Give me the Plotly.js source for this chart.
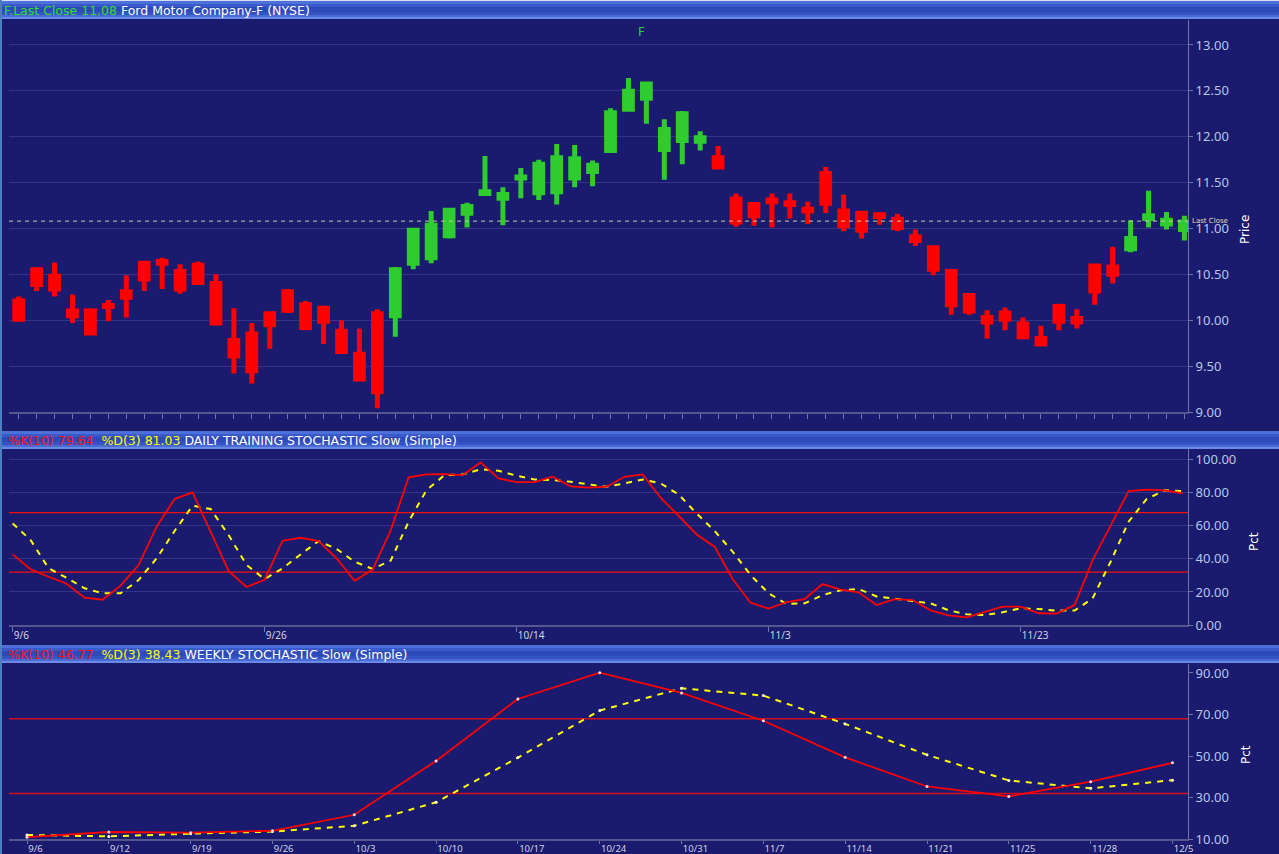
<!DOCTYPE html>
<html>
<head>
<meta charset="utf-8">
<script src="https://cdn.plot.ly/plotly-3.0.1.min.js"></script>
<style>
  html, body { margin: 0; padding: 0; background: #1a1a6e; overflow: hidden; }
  #chart { width: 1279px; height: 854px; }
</style>
</head>
<body>
<div id="chart"></div>
<script>
// ---------------- DATA ----------------
const symbol = "F";
const companyName = "Ford Motor Company-F (NYSE)";
const lastClose = 11.08;

// Daily candles (66 sessions, 9/6 .. 12/5)
const priceHigh = [10.26,10.57,10.63,10.28,10.13,10.22,10.49,10.63,10.68,10.61,
                   10.64,10.50,10.13,9.97,10.08,10.34,10.21,10.14,10.00,9.91,
                   10.12,10.58,10.99,11.19,11.22,11.28,11.79,11.45,11.66,11.75,
                   11.92,11.91,11.74,12.31,12.64,12.575,12.19,12.28,12.06,11.90,
                   11.38,11.27,11.38,11.38,11.29,11.67,11.37,11.18,11.17,11.16,
                   10.99,10.81,10.55,10.29,10.11,10.14,10.03,9.94,10.18,10.12,
                   10.59,10.80,11.09,11.41,11.18,11.14];
const bodyHigh  = [10.21,10.55,10.48,10.10,10.10,10.16,10.31,10.62,10.64,10.53,
                   10.60,10.40,9.78,9.85,10.07,10.31,10.17,10.13,9.88,9.63,
                   10.07,10.55,10.98,11.035,11.20,11.24,11.40,11.37,11.56,11.70,
                   11.77,11.76,11.69,12.26,12.495,12.575,12.08,12.25,11.99,11.77,
                   11.32,11.26,11.31,11.28,11.21,11.60,11.19,11.165,11.15,11.10,
                   10.91,10.79,10.53,10.27,10.03,10.08,9.96,9.80,10.15,10.02,
                   10.59,10.58,10.89,11.14,11.09,11.07];
const bodyLow   = [10.01,10.39,10.34,10.05,9.86,10.15,10.25,10.45,10.62,10.34,
                   10.41,9.97,9.61,9.45,9.95,10.11,9.92,9.99,9.66,9.36,
                   9.22,10.05,10.62,10.68,10.92,11.165,11.38,11.33,11.55,11.39,
                   11.40,11.55,11.62,11.85,12.30,12.42,11.86,11.96,11.95,11.67,
                   11.07,11.14,11.29,11.26,11.19,11.275,11.03,10.98,11.13,11.01,
                   10.87,10.555,10.17,10.10,9.98,10.01,9.82,9.74,9.99,9.98,
                   10.32,10.50,10.78,11.11,11.05,10.99];
const priceLow  = [9.99,10.32,10.26,9.97,9.84,9.99,10.03,10.32,10.34,10.29,
                   10.40,9.97,9.42,9.31,9.69,10.08,9.89,9.74,9.64,9.35,
                   9.04,9.82,10.555,10.62,10.89,11.01,11.38,11.035,11.33,11.31,
                   11.26,11.45,11.46,11.83,12.29,12.14,11.53,11.70,11.85,11.67,
                   11.02,11.03,11.01,11.11,11.05,11.17,10.97,10.89,11.04,10.97,
                   10.81,10.49,10.06,10.06,9.80,9.89,9.82,9.74,9.89,9.91,
                   10.17,10.40,10.74,11.01,10.99,10.87];
// candle colour state: "up" = green, "down" = red
const candleState = ["down","down","down","down","down","down","down","down","down","down",
                     "down","down","down","down","down","down","down","down","down","down",
                     "down","up","up","up","up","up","up","up","up","up",
                     "up","up","up","up","up","up","up","up","up","down",
                     "down","down","down","down","down","down","down","down","down","down",
                     "down","down","down","down","down","down","down","down","down","down",
                     "down","down","up","up","up","up"];

// Daily tick labels (session index -> label)
const dailyTickIdx = [0, 14, 28, 42, 56];
const dailyTickText = ["9/6", "9/26", "10/14", "11/3", "11/23"];

// Daily training stochastic slow
const dailyK = [42.7,33.7,29.2,25.0,16.5,15.3,23.8,36.3,59.5,76.2,
                80.2,56.5,32.7,23.0,27.4,51.0,52.8,50.8,40.3,26.8,
                33.5,57.1,89.3,91.1,91.3,90.7,98.4,88.7,86.5,86.5,
                89.7,83.9,83.1,83.7,89.7,91.1,77.0,66.1,54.8,47.4,
                27.8,13.5,9.9,13.9,15.7,24.8,21.4,19.8,12.1,15.7,
                15.1,8.9,5.8,4.6,7.7,11.1,11.1,7.1,6.9,12.1,
                39.3,60.5,81.0,81.9,81.5,79.64];
const dailyD = [61.5,51.4,34.3,28.6,22.2,19.2,19.2,27.2,40.3,56.9,
                72.2,70.2,54.4,36.3,27.8,34.3,42.7,50.8,46.0,38.3,
                33.9,38.9,62.5,81.7,90.7,91.1,94.2,93.3,90.3,88.1,
                87.7,86.7,85.1,83.7,85.7,88.1,85.7,79.0,67.5,56.9,
                44.4,30.2,19.2,12.7,13.1,18.1,21.0,21.8,17.3,16.1,
                14.5,13.1,8.9,6.5,6.0,7.7,10.1,9.7,8.7,8.7,
                16.1,38.3,62.5,76.2,81.5,81.03];
const stochUpper = 68;
const stochLower = 32;

// Weekly stochastic slow
const weekLabels = ["9/6","9/12","9/19","9/26","10/3","10/10","10/17","10/24",
                    "10/31","11/7","11/14","11/21","11/25","11/28","12/5"];
const weeklyK = [11.0,13.5,13.2,14.1,21.8,47.7,77.5,90.1,80.4,67.0,49.4,35.4,30.6,37.7,46.77];
const weeklyD = [12.1,11.4,12.7,13.7,16.5,27.8,49.3,71.9,82.6,79.1,65.5,50.6,38.3,34.5,38.43];

// ---------------- LAYOUT HELPERS ----------------
const W = 1279, H = 854;
const px = v => v / W;
const py = v => 1 - v / H;
const BG = "#1a1a6e";
const GRID = "#33338a";
const AXIS = "#6c78a8";
const TICKFONT = {family: "Noto Sans, DejaVu Sans, sans-serif", size: 13, color: "#b8c8e6"};
const XFONT = {family: "Noto Sans, DejaVu Sans, sans-serif", size: 10, color: "#d4d4e4"};
const plotL = px(9), plotR = px(1188);

const idx = priceHigh.map((_, i) => i);
function pick(arr, state) { return arr.map((v, i) => candleState[i] === state ? v : null); }
function candle(state, color) {
  return {
    type: "candlestick", xaxis: "x", yaxis: "y",
    x: idx,
    open: pick(bodyLow, state), close: pick(bodyHigh, state),
    high: pick(priceHigh, state), low: pick(priceLow, state),
    increasing: {line: {color: color, width: 5}, fillcolor: color},
    decreasing: {line: {color: color, width: 5}, fillcolor: color},
    whiskerwidth: 0, showlegend: false, hoverinfo: "skip"
  };
}

const traces = [
  candle("down", "#ff0000"),
  candle("up", "#2fcc2f"),
  {type: "scatter", mode: "lines", xaxis: "x2", yaxis: "y2", x: idx, y: dailyD,
   line: {color: "#ffff00", width: 2, dash: "6px,6px"}, showlegend: false, hoverinfo: "skip"},
  {type: "scatter", mode: "lines", xaxis: "x2", yaxis: "y2", x: idx, y: dailyK,
   line: {color: "#ff0000", width: 1.8}, showlegend: false, hoverinfo: "skip"},
  {type: "scatter", mode: "lines+markers", xaxis: "x3", yaxis: "y3",
   x: weekLabels.map((_, i) => i), y: weeklyD,
   line: {color: "#ffff00", width: 2, dash: "6px,6px"},
   marker: {color: "#ffffd0", size: 3}, showlegend: false, hoverinfo: "skip"},
  {type: "scatter", mode: "lines+markers", xaxis: "x3", yaxis: "y3",
   x: weekLabels.map((_, i) => i), y: weeklyK,
   line: {color: "#ff0000", width: 1.8},
   marker: {color: "#ffe0e0", size: 3}, showlegend: false, hoverinfo: "skip"}
];

// header bars (bevelled look made of stacked bands)
const bandSpec = [[0,1,"#1c1c58"],[1,4,"#4e70da"],[4,7,"#3a5acc"],[7,12,"#2e4ab8"],
                  [12,15,"#3554c4"],[15,17,"#4a6ad6"],[17,19,"#6a8ae8"]];
const shapes = [];
function headerBar(top) {
  bandSpec.forEach(b => shapes.push({type: "rect", xref: "paper", yref: "paper",
    x0: 0, x1: 1, y0: py(top + b[1]), y1: py(top + b[0]),
    fillcolor: b[2], line: {width: 0}, layer: "below"}));
}
headerBar(0); headerBar(430); headerBar(644);
shapes.push({type: "rect", xref: "paper", yref: "paper", x0: 0, x1: 1, y0: py(1), y1: 1,
  fillcolor: "#d8e0f0", line: {width: 0}, layer: "below"});
// left border
shapes.push({type: "rect", xref: "paper", yref: "paper", x0: 0, x1: px(2), y0: 0, y1: 1,
  fillcolor: "#4f7fc0", line: {width: 0}, layer: "above"});
// last close line
shapes.push({type: "line", xref: "paper", yref: "y", x0: plotL, x1: plotR, y0: lastClose, y1: lastClose,
  line: {color: "#cfc8a8", width: 1, dash: "4px,4px"}, layer: "above"});
// stochastic bands
[stochUpper, stochLower].forEach(v => {
  shapes.push({type: "line", xref: "paper", yref: "y2", x0: plotL, x1: plotR, y0: v, y1: v,
    line: {color: "#f01010", width: 1.4}, layer: "below"});
  shapes.push({type: "line", xref: "paper", yref: "y3", x0: plotL, x1: plotR, y0: v, y1: v,
    line: {color: "#d01020", width: 1.6}, layer: "below"});
});

const HFONT = {family: "DejaVu Sans, Verdana, sans-serif", size: 12.5, color: "#ffffff"};
const annotations = [
  {xref: "paper", yref: "paper", x: px(2), y: py(10.5), xanchor: "left", yanchor: "middle", showarrow: false,
   font: HFONT, text: '<span style="color:#33dd33">' + symbol + '.Last Close ' + lastClose.toFixed(2) + '</span> ' + companyName},
  {xref: "paper", yref: "paper", x: px(6), y: py(440.5), xanchor: "left", yanchor: "middle", showarrow: false,
   font: HFONT, text: '<span style="color:#ff1010">%K(10) ' + dailyK[dailyK.length-1].toFixed(2) + '</span>&nbsp;&nbsp;<span style="color:#ffff00">%D(3) ' + dailyD[dailyD.length-1].toFixed(2) + '</span> DAILY TRAINING STOCHASTIC Slow (Simple)'},
  {xref: "paper", yref: "paper", x: px(6), y: py(654.7), xanchor: "left", yanchor: "middle", showarrow: false,
   font: HFONT, text: '<span style="color:#ff1010">%K(10) ' + weeklyK[weeklyK.length-1].toFixed(2) + '</span>&nbsp;&nbsp;<span style="color:#ffff00">%D(3) ' + weeklyD[weeklyD.length-1].toFixed(2) + '</span> WEEKLY STOCHASTIC Slow (Simple)'},
  {xref: "paper", yref: "paper", x: px(641), y: py(32), xanchor: "center", yanchor: "middle", showarrow: false,
   font: {family: "DejaVu Sans, sans-serif", size: 12, color: "#33cc33"}, text: symbol},
  {xref: "paper", yref: "y", x: px(1190), y: lastClose, xanchor: "left", yanchor: "middle", showarrow: false,
   font: {family: "DejaVu Sans, sans-serif", size: 7, color: "#e4dcb8"}, text: "Last Close"},
  {xref: "paper", yref: "paper", x: px(1245), y: py(230), xanchor: "center", yanchor: "middle", showarrow: false,
   textangle: -90, font: {family: "DejaVu Sans, sans-serif", size: 12, color: "#ffffff"}, text: "Price"},
  {xref: "paper", yref: "paper", x: px(1254), y: py(542), xanchor: "center", yanchor: "middle", showarrow: false,
   textangle: -90, font: {family: "DejaVu Sans, sans-serif", size: 12, color: "#ffffff"}, text: "Pct"},
  {xref: "paper", yref: "paper", x: px(1246), y: py(755), xanchor: "center", yanchor: "middle", showarrow: false,
   textangle: -90, font: {family: "DejaVu Sans, sans-serif", size: 12, color: "#ffffff"}, text: "Pct"}
];

const yCommon = {side: "right", ticks: "outside", ticklen: 4, tickcolor: AXIS, showline: true,
  linecolor: AXIS, linewidth: 1, tickfont: TICKFONT, tickformat: ".2f", zeroline: false,
  gridcolor: GRID, gridwidth: 1, fixedrange: true};
const xCommon = {showgrid: false, zeroline: false, showline: true, linecolor: "#555590", linewidth: 1.5,
  ticks: "outside", ticklen: 5, tickcolor: AXIS, tickfont: XFONT, fixedrange: true,
  domain: [plotL, plotR]};

const layout = {
  width: W, height: H, margin: {l: 0, r: 0, t: 0, b: 0, pad: 0},
  paper_bgcolor: BG, plot_bgcolor: BG, showlegend: false,
  boxgap: 0.38, boxmode: "overlay",
  xaxis: Object.assign({}, xCommon, {anchor: "y", range: [-0.54, 65.2], tickmode: "linear", tick0: 0, dtick: 1,
    showticklabels: false, rangeslider: {visible: false}}),
  yaxis: Object.assign({}, yCommon, {anchor: "x", domain: [py(412), py(20)], range: [9.0, 13.272],
    tickmode: "linear", tick0: 9, dtick: 0.5}),
  xaxis2: Object.assign({}, xCommon, {anchor: "y2", range: [-0.2, 65.3], tickmode: "array",
    tickvals: dailyTickIdx, ticktext: dailyTickText, ticklabelposition: "outside right"}),
  yaxis2: Object.assign({}, yCommon, {anchor: "x2", domain: [py(625), py(449)], range: [0, 106.5],
    tickmode: "linear", tick0: 0, dtick: 20}),
  xaxis3: Object.assign({}, xCommon, {anchor: "y3", range: [-0.22, 14.19], tickmode: "array", ticklen: 3,
    tickfont: Object.assign({}, XFONT, {size: 9.5}),
    tickvals: weekLabels.map((_, i) => i), ticktext: weekLabels, ticklabelposition: "outside right"}),
  yaxis3: Object.assign({}, yCommon, {anchor: "x3", domain: [py(839.3), py(664)], range: [10, 94.3],
    tickmode: "linear", tick0: 10, dtick: 20, showgrid: false}),
  shapes: shapes,
  annotations: annotations
};

Plotly.newPlot("chart", traces, layout, {staticPlot: true, displayModeBar: false});
</script>
</body>
</html>
